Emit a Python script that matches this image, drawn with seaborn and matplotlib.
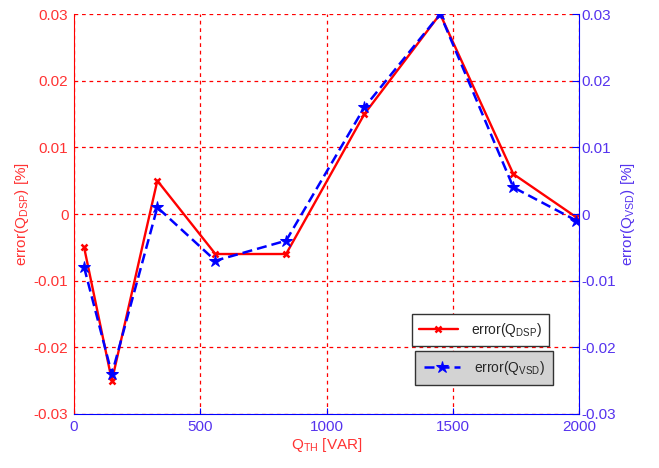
import matplotlib.pyplot as plt
import pandas as pd
import seaborn as sns

sns.set_style("white")
plt.rcParams['font.family'] = ['Liberation Sans', 'DejaVu Sans']
plt.rcParams['mathtext.fontset'] = 'custom'
plt.rcParams['mathtext.rm'] = 'Liberation Sans'

# Data
Q_TH = [40, 150, 330, 560, 840, 1150, 1450, 1740, 1990]
ERR_DSP = [-0.005, -0.025, 0.005, -0.006, -0.006, 0.015, 0.030, 0.006, -0.0005]
ERR_VSD = [-0.008, -0.024, 0.001, -0.007, -0.004, 0.016, 0.030, 0.004, -0.001]
Y_TICKS = [-0.03, -0.02, -0.01, 0, 0.01, 0.02, 0.03]
Y_TICK_LABELS = ['-0.03', '-0.02', '-0.01', '0', '0.01', '0.02', '0.03']
X_TICKS = [0, 500, 1000, 1500, 2000]

RED = '#ff0000'
BLUE = '#0000ff'
RED_TXT = '#ff3333'
BLUE_TXT = '#5533ee'

df = pd.DataFrame({'Q': Q_TH, 'dsp': ERR_DSP, 'vsd': ERR_VSD})

fig = plt.figure(figsize=(6.59, 4.68), dpi=100)
ax = fig.add_axes([0.1123, 0.1154, 0.7663, 0.8546])
ax2 = ax.twinx()

sns.lineplot(data=df, x='Q', y='dsp', ax=ax, color=RED, lw=1.7, marker='x',
             markersize=5, markeredgewidth=1.8, markeredgecolor=RED,
             label=r'error(Q$_{\rm DSP}$)', legend=False)
sns.lineplot(data=df, x='Q', y='vsd', ax=ax2, color=BLUE, lw=1.8, marker='*',
             markersize=9, markeredgecolor=BLUE, dashes=False,
             label=r'error(Q$_{\rm VSD}$)', legend=False)
ax2.lines[0].set_linestyle((0, (4, 2)))

for a in (ax, ax2):
    a.set_xlim(0, 2000)
    a.set_ylim(-0.03, 0.03)
    a.set_yticks(Y_TICKS)

ax.set_xticks(X_TICKS)
ax.set_yticklabels(Y_TICK_LABELS, color=RED_TXT, fontsize=11)
ax2.set_yticklabels(Y_TICK_LABELS, color=BLUE_TXT, fontsize=11)
ax.set_xticklabels([str(t) for t in X_TICKS], color=BLUE_TXT, fontsize=11)

ax.grid(True, color=RED, linestyle=(0, (3, 3)), linewidth=0.9)
ax.set_axisbelow(True)

ax.spines['left'].set_color(RED)
ax.spines['bottom'].set_color(BLUE)
ax.spines['top'].set_visible(False)
ax.spines['right'].set_visible(False)
ax2.spines['right'].set_color(BLUE)
ax2.spines['left'].set_visible(False)
ax2.spines['top'].set_visible(False)
ax2.spines['bottom'].set_visible(False)

ax.tick_params(axis='x', direction='in', length=4, color=BLUE, pad=4, bottom=True)
ax.tick_params(axis='y', direction='in', length=0, pad=4)
ax2.tick_params(axis='y', direction='in', length=5, color=BLUE, pad=2, right=True)

ax.set_xlabel(r'Q$_{\rm TH}$ [VAR]', color=RED_TXT, fontsize=11, labelpad=2)
ax.set_ylabel(r'error(Q$_{\rm DSP}$) [%]', color=RED_TXT, fontsize=11, labelpad=2)
ax2.set_ylabel(r'error(Q$_{\rm VSD}$) [%]', color=BLUE_TXT, fontsize=11, labelpad=2)

leg1 = ax.legend(loc='upper left', bbox_to_anchor=(0.655, 0.268), fontsize=10,
                 fancybox=False, edgecolor='#333333', framealpha=1,
                 handlelength=2.8, borderpad=0.5, handletextpad=1.0)
leg1.get_frame().set_facecolor('white')
leg2 = ax2.legend(loc='upper left', bbox_to_anchor=(0.662, 0.176), fontsize=10,
                  fancybox=False, edgecolor='#333333', framealpha=1,
                  handlelength=2.6, borderpad=0.6, handletextpad=1.0)
leg2.get_frame().set_facecolor('#d3d3d3')

fig.savefig('out.png', dpi=100)
